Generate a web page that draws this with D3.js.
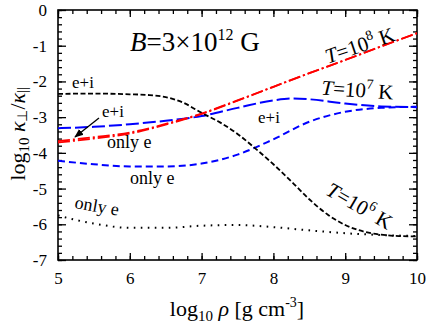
<!DOCTYPE html>
<html>
<head>
<meta charset="utf-8">
<script src="https://cdn.jsdelivr.net/npm/d3@7"></script>
<style>
  body { margin: 0; background: #fff; }
  svg text { font-family: "Liberation Serif", "Times New Roman", serif; }
</style>
</head>
<body>
<svg id="chart" width="431" height="336"></svg>
<script>
// Données (log10 rho, log10 kappa_perp/kappa_par)
const xTicks = [5, 6, 7, 8, 9, 10];
const yTicks = [0, -1, -2, -3, -4, -5, -6, -7];

// T = 1e6 K, e+i (tirets noirs)
const t6ei = [
  [5, -2.35], [5.5, -2.34], [6, -2.36], [6.25, -2.38], [6.5, -2.44],
  [6.75, -2.6], [7, -2.88], [7.25, -3.14], [7.5, -3.47], [7.75, -3.88],
  [8, -4.32], [8.25, -4.8], [8.5, -5.3], [8.75, -5.72], [9, -6.02],
  [9.25, -6.2], [9.5, -6.29], [9.75, -6.33], [10, -6.34]
];
// T = 1e6 K, only e (pointillés noirs)
const t6e = [
  [5, -5.75], [5.25, -5.88], [5.5, -5.98], [6, -6.1], [6.5, -6.1],
  [7, -6.04], [7.5, -6.02], [8, -6.08], [8.5, -6.17], [9, -6.25],
  [9.5, -6.3], [10, -6.33]
];
// T = 1e7 K, e+i (longs tirets bleus)
const t7ei = [
  [5, -3.31], [5.5, -3.27], [6, -3.2], [6.5, -3.1], [7, -2.97],
  [7.5, -2.74], [8, -2.53], [8.25, -2.48], [8.5, -2.5], [9, -2.62],
  [9.5, -2.7], [10, -2.72]
];
// T = 1e7 K, only e (tirets bleus)
const t7e = [
  [5, -4.22], [5.5, -4.32], [6, -4.38], [6.5, -4.38], [7, -4.3],
  [7.5, -4.05], [8, -3.62], [8.5, -3.13], [9, -2.85], [9.5, -2.74],
  [10, -2.71]
];
// T = 1e8 K, e+i et only e (trait-point rouge)
const t8ei = [
  [5, -3.67], [5.5, -3.56], [6, -3.43], [6.5, -3.19], [7, -2.9],
  [7.5, -2.53], [8, -2.15], [8.5, -1.77], [9, -1.4], [9.5, -1.02],
  [10, -0.65]
];
const t8e = [
  [5, -3.71], [5.5, -3.6], [6, -3.46], [6.5, -3.21], [7, -2.91],
  [7.5, -2.54], [8, -2.15], [8.5, -1.77], [9, -1.4], [9.5, -1.02],
  [10, -0.65]
];

const FONT = "Liberation Serif";
const svg = d3.select("#chart");
const margin = { top: 10, right: 14, bottom: 76, left: 58 };
const W = +svg.attr("width");
const H = +svg.attr("height");

const x = d3.scaleLinear().domain([5, 10]).range([margin.left, W - margin.right]);
const y = d3.scaleLinear().domain([-7, 0]).range([H - margin.bottom, margin.top]);

const minorX = d3.range(5, 10.001, 0.2);
const minorY = d3.range(-7, 0.001, 0.2);

// Axes : graduations vers l'intérieur sur les quatre côtés
function axisGroup(axis, tr) {
  const g = svg.append("g").attr("transform", tr).call(axis);
  g.attr("font-family", FONT);
  g.select(".domain").remove();
  g.selectAll(".tick line").attr("stroke", "#000").attr("stroke-width", 1.3);
  g.selectAll("text").attr("font-size", 17).attr("fill", "#000");
  return g;
}
const trBottom = `translate(0,${y(-7)})`;
const trTop = `translate(0,${y(0)})`;
const trLeft = `translate(${x(5)},0)`;
const trRight = `translate(${x(10)},0)`;

axisGroup(d3.axisBottom(x).tickValues(xTicks).tickSize(-7).tickPadding(12).tickFormat(d3.format("d")), trBottom);
axisGroup(d3.axisBottom(x).tickValues(minorX).tickSize(-4).tickFormat(""), trBottom);
axisGroup(d3.axisTop(x).tickValues(xTicks).tickSize(-7).tickFormat(""), trTop);
axisGroup(d3.axisTop(x).tickValues(minorX).tickSize(-4).tickFormat(""), trTop);
axisGroup(d3.axisLeft(y).tickValues(yTicks).tickSize(-8).tickPadding(11).tickFormat(d3.format("d")), trLeft);
axisGroup(d3.axisLeft(y).tickValues(minorY).tickSize(-4).tickFormat(""), trLeft);
axisGroup(d3.axisRight(y).tickValues(yTicks).tickSize(-8).tickFormat(""), trRight);
axisGroup(d3.axisRight(y).tickValues(minorY).tickSize(-4).tickFormat(""), trRight);

// Signe moins à la place du tiret typographique
svg.selectAll("text").each(function () {
  const t = d3.select(this);
  t.text(t.text().replace("\u2212", "-"));
});

// Cadre
svg.append("rect")
  .attr("x", x(5)).attr("y", y(0))
  .attr("width", x(10) - x(5)).attr("height", y(-7) - y(0))
  .attr("fill", "none").attr("stroke", "#000").attr("stroke-width", 1.6);

// Courbes
const line = d3.line()
  .x(d => x(d[0]))
  .y(d => y(d[1]))
  .curve(d3.curveMonotoneX);

const series = [
  { data: t7e, color: "#0000ff", dash: "7,4", w: 2 },
  { data: t7ei, color: "#0000ff", dash: "13,4", w: 2 },
  { data: t6e, color: "#000", dash: "1.6,5.4", w: 2 },
  { data: t6ei, color: "#000", dash: "5,2.5", w: 1.8 },
  { data: t8e, color: "#ff0000", dash: "12,3,2,3", w: 1.8 },
  { data: t8ei, color: "#ff0000", dash: "12,3,2,3", w: 1.8 }
];

svg.append("clipPath").attr("id", "clip").append("rect")
  .attr("x", x(5)).attr("y", y(0))
  .attr("width", x(10) - x(5)).attr("height", y(-7) - y(0));

svg.append("g").attr("clip-path", "url(#clip)")
  .selectAll("path")
  .data(series)
  .join("path")
  .attr("fill", "none")
  .attr("stroke", d => d.color)
  .attr("stroke-width", d => d.w)
  .attr("stroke-dasharray", d => d.dash)
  .attr("stroke-linecap", "butt")
  .attr("d", d => line(d.data));

// Textes
function label(txt, px, py, size, rot) {
  return svg.append("text")
    .attr("transform", `translate(${px},${py}) rotate(${rot || 0})`)
    .attr("font-family", FONT)
    .attr("font-size", size)
    .attr("fill", "#000")
    .text(txt);
}

// B = 3 x 10^12 G
const b = label("", 130, 51, 27);
b.append("tspan").attr("font-style", "italic").text("B");
b.append("tspan").text("=3\u00d710");
b.append("tspan").attr("font-size", 16).attr("dy", -11).text("12");
b.append("tspan").attr("dy", 11).text(" G");

// Étiquettes de température
function tempLabel(exp, cx, cy, rot) {
  const t = svg.append("text")
    .attr("transform", `translate(${cx},${cy}) rotate(${rot})`)
    .attr("text-anchor", "middle")
    .attr("font-family", FONT)
    .attr("font-size", 21);
  t.append("tspan").attr("font-style", "italic").text("T");
  t.append("tspan").text("=10");
  t.append("tspan").attr("font-size", 14).attr("dy", -9).text(exp);
  t.append("tspan").attr("dy", 9).text(" K");
}
tempLabel("8", 362, 52, -19);
tempLabel("7", 357, 97, 4);
tempLabel("6", 356, 212, 30);

label("e+i", 72, 88, 17);
label("e+i", 102, 117, 17);
label("only e", 107, 148, 18);
label("e+i", 258, 123, 17);
label("only e", 130, 184, 18);
label("only e", 74, 208, 18, 10);

// Flèche vers la courbe rouge
svg.append("defs").append("marker")
  .attr("id", "arrow").attr("viewBox", "0 0 10 10")
  .attr("refX", 9).attr("refY", 5)
  .attr("markerWidth", 7).attr("markerHeight", 7)
  .attr("orient", "auto")
  .append("path").attr("d", "M0,1 L10,5 L0,9 Z").attr("fill", "#000");
svg.append("line")
  .attr("x1", 99).attr("y1", 118)
  .attr("x2", 75).attr("y2", 137)
  .attr("stroke", "#000").attr("stroke-width", 1.3)
  .attr("marker-end", "url(#arrow)");

// Titres des axes
const xl = svg.append("text")
  .attr("x", 237).attr("y", 316)
  .attr("text-anchor", "middle")
  .attr("font-family", FONT)
  .attr("font-size", 22);
xl.append("tspan").text("log");
xl.append("tspan").attr("font-size", 15).attr("dy", 5).text("10");
xl.append("tspan").attr("dy", -5).attr("font-style", "italic").text(" \u03c1");
xl.append("tspan").text(" [g cm");
xl.append("tspan").attr("font-size", 14).attr("dy", -9).text("-3");
xl.append("tspan").attr("dy", 9).text("]");

const yl = svg.append("text")
  .attr("transform", "translate(25,134) rotate(-90)")
  .attr("text-anchor", "middle")
  .attr("font-family", FONT)
  .attr("font-size", 22);
yl.append("tspan").text("log");
yl.append("tspan").attr("font-size", 15).attr("dy", 4).text("10");
yl.append("tspan").attr("dy", -4).attr("font-style", "italic").text(" \u03ba");
yl.append("tspan").attr("font-size", 14).attr("dy", 2).text("\u22a5");
yl.append("tspan").attr("dy", -2).text("/");
yl.append("tspan").attr("font-style", "italic").text("\u03ba");
yl.append("tspan").attr("font-size", 14).attr("dy", 2).text("||");
</script>
</body>
</html>
